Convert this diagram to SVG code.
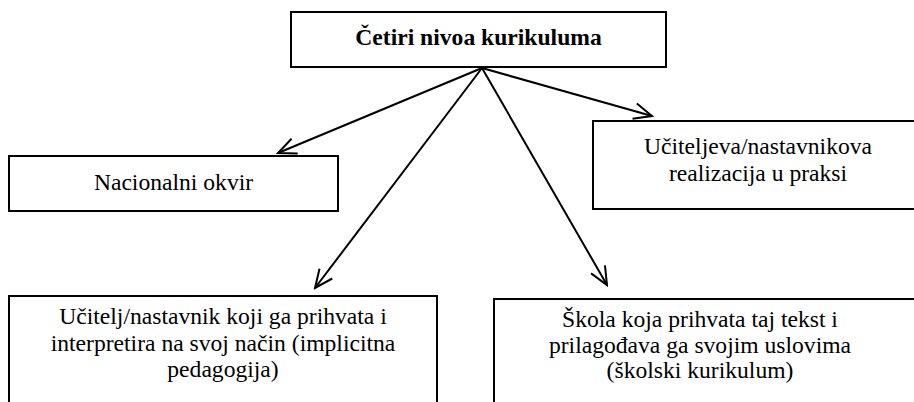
<svg xmlns="http://www.w3.org/2000/svg" width="914" height="402" viewBox="0 0 914 402">
<style>
.box{fill:#fff;stroke:#000;stroke-width:2}
.c{stroke:#000;stroke-width:2;fill:none}
</style>
<defs>
<marker id="ah" markerUnits="userSpaceOnUse" viewBox="-20 -10 22 20" refX="0" refY="0" markerWidth="22" markerHeight="20" orient="auto">
<path d="M-18,-8 L0,0 L-18,8" fill="none" stroke="#000" stroke-width="2"/>
</marker>
</defs>
<rect width="914" height="402" fill="#fff"/>
<g id="connectors">
<line class="c" x1="482" y1="68" x2="278" y2="153" marker-end="url(#ah)"/>
<line class="c" x1="482" y1="68" x2="652" y2="116" marker-end="url(#ah)"/>
<line class="c" x1="482" y1="68" x2="315" y2="288" marker-end="url(#ah)"/>
<line class="c" x1="482" y1="68" x2="607" y2="285" marker-end="url(#ah)"/>
</g>
<g font-family="Liberation Serif" font-size="23.6" text-anchor="middle" fill="#000">
<g id="n-top">
<rect class="box" x="291" y="12" width="375" height="55"/>
<text x="478.5" y="45" font-weight="bold">Četiri nivoa kurikuluma</text>
</g>
<g id="n-nacionalni">
<rect class="box" x="9" y="156" width="329" height="55"/>
<text x="173.5" y="190">Nacionalni okvir</text>
</g>
<g id="n-realizacija">
<rect class="box" x="593" y="121" width="330" height="88"/>
<text x="758" y="154">Učiteljeva/nastavnikova</text>
<text x="758" y="181">realizacija u praksi</text>
</g>
<g id="n-ucitelj">
<rect class="box" x="9" y="296" width="428" height="120"/>
<text x="223" y="324">Učitelj/nastavnik koji ga prihvata i</text>
<text x="223" y="350.5">interpretira na svoj način (implicitna</text>
<text x="223" y="377">pedagogija)</text>
</g>
<g id="n-skola">
<rect class="box" x="494" y="299" width="430" height="120"/>
<text x="700" y="327">Škola koja prihvata taj tekst i</text>
<text x="700" y="353">prilagođava ga svojim uslovima</text>
<text x="700" y="378">(školski kurikulum)</text>
</g>
</g>
</svg>
